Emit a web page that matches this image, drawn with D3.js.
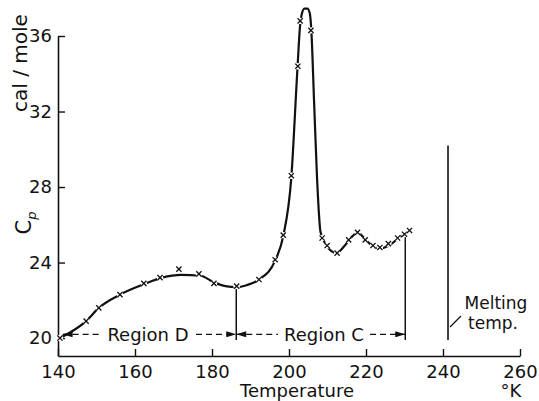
<!DOCTYPE html>
<html>
<head>
<meta charset="utf-8">
<script src="https://cdn.jsdelivr.net/npm/d3@7"></script>
<style>
  body { margin: 0; background: #fff; }
  svg { display: block; }
  text { font-family: "DejaVu Sans", sans-serif; fill: #111; }
</style>
</head>
<body>
<div id="chart"></div>
<script>
// measured points (crosses)
const pointT  = [140.5, 147.3, 150.6, 156.1, 162.3, 166.5, 171.4, 176.6, 180.5, 186.4, 192.2, 196.4, 198.5, 200.6, 202.3, 202.9, 205.7, 208.6, 209.9, 212.5, 215.5, 217.8, 219.8, 221.8, 223.6, 225.8, 228.2, 230.0, 231.3];
const pointCp = [20.0, 20.9, 21.6, 22.3, 22.9, 23.2, 23.65, 23.4, 22.9, 22.75, 23.1, 24.15, 25.45, 28.6, 34.4, 36.8, 36.3, 25.3, 24.9, 24.5, 25.2, 25.6, 25.2, 24.9, 24.8, 25.0, 25.3, 25.5, 25.7];

// drawn curve through the points
const curveT  = [140.5, 147.3, 150.6, 156.1, 162.3, 167, 172, 177, 180.5, 183.5, 186.3, 189, 192.2, 196.4, 198.5, 200.6, 202.2, 202.9, 203.3, 204.0, 204.8, 205.4, 205.8, 206.5, 207.3, 208.2, 209.6, 211, 212.3, 214.5, 216.5, 217.8, 219.5, 221.5, 223.6, 226, 228.5, 231.3];
const curveCp = [20.0, 20.9, 21.6, 22.3, 22.85, 23.2, 23.35, 23.3, 22.95, 22.75, 22.7, 22.8, 23.1, 24.1, 25.4, 28.5, 34.3, 36.6, 37.15, 37.45, 37.45, 37.2, 36.3, 32.6, 28.4, 25.6, 24.95, 24.6, 24.5, 24.9, 25.4, 25.6, 25.3, 24.9, 24.75, 24.9, 25.3, 25.7];

const xTicks = [140, 160, 180, 200, 220, 240, 260];
const yTicks = [20, 24, 28, 32, 36];

// region boundaries (K) and melting temperature
const regionD = [141.2, 186.3];
const regionC = [186.3, 230.2];
const meltT = 241.3;
const meltTop = 30.2;

const w = 539, h = 401;
const svg = d3.select("#chart").append("svg").attr("width", w).attr("height", h);

const x = d3.scaleLinear().domain([140, 260]).range([58, 520]);
const y = d3.scaleLinear().domain([19.05, 36]).range([356, 36]);

const ink = "#111";

// axes
const xAxis = svg.append("g").attr("transform", "translate(0,356)")
    .call(d3.axisBottom(x).tickValues(xTicks).tickSize(-7).tickSizeOuter(0).tickPadding(9).tickFormat(d3.format("d")));
const yAxis = svg.append("g").attr("transform", "translate(58,0)")
    .call(d3.axisLeft(y).tickValues(yTicks).tickSize(-7).tickSizeOuter(0).tickPadding(6).tickFormat(d3.format("d")));

[xAxis, yAxis].forEach(a => {
    a.select(".domain").attr("stroke", ink).attr("stroke-width", 1.6);
    a.selectAll(".tick line").attr("stroke", ink).attr("stroke-width", 1.4);
    a.selectAll(".tick text").attr("font-family", "DejaVu Sans").attr("font-size", 18).attr("fill", ink);
});
yAxis.selectAll(".tick text").attr("dy", "0.32em");

// curve
const line = d3.line().x((d, i) => x(curveT[i])).y((d, i) => y(curveCp[i])).curve(d3.curveMonotoneX);
svg.append("path").attr("d", line(curveT))
    .attr("fill", "none").attr("stroke", ink).attr("stroke-width", 2.2);

// crosses
const pts = svg.append("g").selectAll("g").data(pointT).enter().append("g")
    .attr("transform", (d, i) => `translate(${x(d)},${y(pointCp[i])})`);
pts.append("circle").attr("r", 3.2).attr("fill", "#fff");
pts.append("path").attr("d", "M-2.6,-2.6L2.6,2.6M-2.6,2.6L2.6,-2.6")
    .attr("stroke", ink).attr("stroke-width", 1.3);

// region boundaries
const lowY = y(19.9);
[regionD[1], regionC[1]].forEach(t => {
    const i = pointT.findIndex(v => Math.abs(v - t) < 1.5);
    const top = i >= 0 ? y(pointCp[i]) + 3 : y(25.5);
    svg.append("line").attr("x1", x(t)).attr("x2", x(t)).attr("y1", top).attr("y2", lowY)
        .attr("stroke", ink).attr("stroke-width", 1.5);
});

// arrows
svg.append("defs").append("marker").attr("id", "ah")
    .attr("viewBox", "0 0 10 6").attr("refX", 10).attr("refY", 3)
    .attr("markerWidth", 12).attr("markerHeight", 6).attr("markerUnits", "userSpaceOnUse")
    .attr("orient", "auto-start-reverse")
    .append("path").attr("d", "M0,0L10,3L0,6Z").attr("fill", ink);

const arrowY = y(20.2);
function regionArrow(range, label, textLeft, textRight) {
    svg.append("line").attr("x1", x(range[0])).attr("x2", textLeft - 4).attr("y1", arrowY).attr("y2", arrowY)
        .attr("stroke", ink).attr("stroke-width", 1.3).attr("stroke-dasharray", "6,4")
        .attr("marker-start", "url(#ah)");
    svg.append("line").attr("x1", textRight + 4).attr("x2", x(range[1])).attr("y1", arrowY).attr("y2", arrowY)
        .attr("stroke", ink).attr("stroke-width", 1.3).attr("stroke-dasharray", "6,4")
        .attr("marker-end", "url(#ah)");
    svg.append("text").attr("x", (textLeft + textRight) / 2).attr("y", arrowY + 7)
        .attr("text-anchor", "middle").attr("font-size", 18).text(label);
}
regionArrow(regionD, "Region D", 104, 192);
regionArrow(regionC, "Region C", 282, 366);

// melting temperature
svg.append("line").attr("x1", x(meltT)).attr("x2", x(meltT)).attr("y1", y(meltTop)).attr("y2", lowY)
    .attr("stroke", ink).attr("stroke-width", 1.6);
svg.append("line").attr("x1", x(meltT) + 2).attr("y1", 327).attr("x2", 461).attr("y2", 316)
    .attr("stroke", ink).attr("stroke-width", 1.2);
svg.append("text").attr("x", 496).attr("y", 309).attr("text-anchor", "middle").attr("font-size", 17).text("Melting");
svg.append("text").attr("x", 493).attr("y", 329).attr("text-anchor", "middle").attr("font-size", 17).text("temp.");

// axis titles
svg.append("text").attr("x", 297).attr("y", 397).attr("text-anchor", "middle").attr("font-size", 18).text("Temperature");
svg.append("text").attr("x", 511).attr("y", 397).attr("text-anchor", "middle").attr("font-size", 18).text("°K");

svg.append("text").attr("transform", "translate(27,63) rotate(-90)")
    .attr("text-anchor", "middle").attr("font-size", 20).text("cal / mole");

const cp = svg.append("text").attr("transform", "translate(31,223) rotate(-90)")
    .attr("text-anchor", "middle").attr("font-size", 21);
cp.append("tspan").text("C");
cp.append("tspan").attr("font-size", 13).attr("font-style", "italic").attr("dy", 5).text("p");
</script>
</body>
</html>
